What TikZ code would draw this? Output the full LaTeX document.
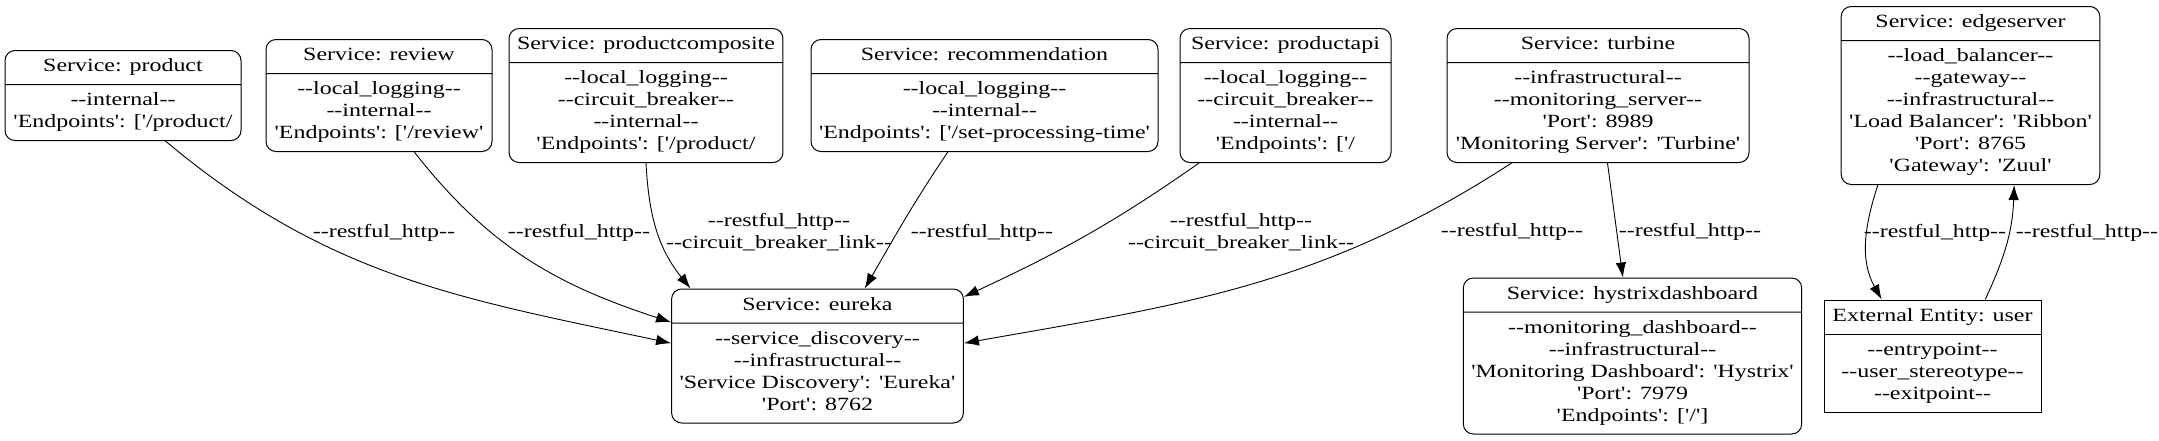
\documentclass[tikz,border=0pt]{standalone}
\usepackage{fontspec}
\setmainfont{Liberation Serif}[Ligatures=TeXOff,FakeStretch=1.28]
\usetikzlibrary{shapes.multipart,arrows.meta}

\tikzset{
  svc/.style={rectangle split,rectangle split parts=2,draw,rounded corners=10pt,align=center,
    inner xsep=8pt,inner ysep=5.5pt,minimum width=#1,line width=1pt},
  ext/.style={svc=#1,sharp corners},
  lbl/.style={align=center,inner sep=0pt},
  flow/.style={->,>={Latex[length=15pt,width=10.5pt]},line width=0.9pt}
}

\begin{document}
\begin{tikzpicture}[x=1pt,y=1pt,font=\fontsize{18.7}{22}\selectfont]
\useasboundingbox (0,0) rectangle (2159,-440);
% services, top row
\node[svc=236] (product)at(123,-95.5){\strut Service: product
  \nodepart{two}\strut --internal--\\'Endpoints': ['/product/\strut};
\node[svc=226] (review)at(379,-95.5){\strut Service: review
  \nodepart{two}\strut --local\_logging--\\--internal--\\'Endpoints': ['/review'\strut};
\node[svc=264] (composite)at(646,-95.5){\strut Service: productcomposite
  \nodepart{two}\strut --local\_logging--\\--circuit\_breaker--\\--internal--\\'Endpoints': ['/product/\strut};
\node[svc=347] (recommendation)at(984.5,-95.5){\strut Service: recommendation
  \nodepart{two}\strut --local\_logging--\\--internal--\\'Endpoints': ['/set-processing-time'\strut};
\node[svc=211] (productapi)at(1285.5,-95.5){\strut Service: productapi
  \nodepart{two}\strut --local\_logging--\\--circuit\_breaker--\\--internal--\\'Endpoints': ['/\strut};
\node[svc=302] (turbine)at(1598,-95.5){\strut Service: turbine
  \nodepart{two}\strut --infrastructural--\\--monitoring\_server--\\'Port': 8989\\'Monitoring Server': 'Turbine'\strut};
\node[svc=257] (edgeserver)at(1970.5,-95.5){\strut Service: edgeserver
  \nodepart{two}\strut --load\_balancer--\\--gateway--\\--infrastructural--\\'Load Balancer': 'Ribbon'\\'Port': 8765\\'Gateway': 'Zuul'\strut};
% bottom row
\node[svc=289] (eureka)at(817.5,-356){\strut Service: eureka
  \nodepart{two}\strut --service\_discovery--\\--infrastructural--\\'Service Discovery': 'Eureka'\\'Port': 8762\strut};
\node[svc=335] (hystrix)at(1632.5,-356){\strut Service: hystrixdashboard
  \nodepart{two}\strut --monitoring\_dashboard--\\--infrastructural--\\'Monitoring Dashboard': 'Hystrix'\\'Port': 7979\\'Endpoints': ['/']\strut};
\node[ext=217] (user)at(1932.5,-356){\strut External Entity: user
  \nodepart{two}\strut --entrypoint--\\--user\_stereotype--\\--exitpoint--\strut};
% flows
\draw[flow] (product.-47.3) to[out=-40,in=168] (eureka.175.6);
\draw[flow] (review.-58.5) to[out=-52,in=162] (eureka.167.9);
\draw[flow] (composite.-90) to[out=-87,in=129] (eureka.152.3);
\draw[flow] (recommendation.-123.3) to[out=-124,in=60] (eureka.55.2);
\draw[flow] (productapi.-142.4) to[out=-145,in=25] (eureka.22.2);
\draw[flow] (turbine.-142.3) to[out=-147,in=10] (eureka.5.9);
\draw[flow] (turbine.-82.4) -- (hystrix.97.6);
\draw[flow] (edgeserver.-136.6) to[out=-108,in=119] (user.132.3);
\draw[flow] (user.47.7) to[out=65,in=-92] (edgeserver.-64.9);
% labels
\node[lbl] (l1)at(384,-233){--restful\_http--};
\node[lbl] (l2)at(579,-233){--restful\_http--};
\node[lbl] (l3)at(779,-232){--restful\_http--\\--circuit\_breaker\_link--};
\node[lbl] (l4)at(982,-233){--restful\_http--};
\node[lbl] (l5)at(1241,-232){--restful\_http--\\--circuit\_breaker\_link--};
\node[lbl] (l6)at(1512,-232){--restful\_http--};
\node[lbl] (l7)at(1690,-232){--restful\_http--};
\node[lbl] (l8)at(1935,-233){--restful\_http--};
\node[lbl] (l9)at(2087,-233){--restful\_http--};
\end{tikzpicture}
\end{document}
